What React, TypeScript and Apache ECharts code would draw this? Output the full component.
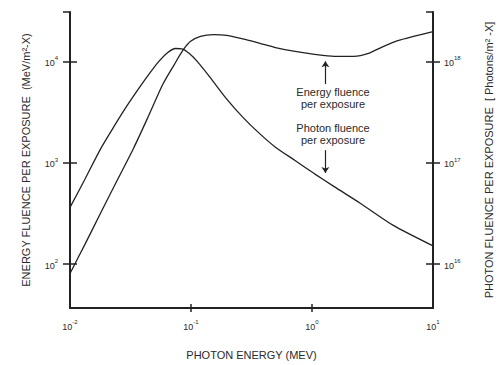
import React, { useEffect, useRef } from 'react';
import * as echarts from 'echarts';

// Photon fluence per exposure (right axis, photons/m^2-X)
const photonX = [0.01, 0.01322, 0.01804, 0.02312, 0.02889, 0.03681, 0.04434, 0.05341, 0.06435, 0.07469, 0.0851, 0.09694, 0.1125, 0.1433, 0.1967, 0.2699, 0.3636, 0.4989, 0.7243, 1.0508, 1.525, 2.521, 4.661, 10];
const photonFluence = [3.627e16, 6.795e16, 1.392e17, 2.279e17, 3.487e17, 5.34e17, 7.306e17, 9.779e17, 1.224e18, 1.338e18, 1.323e18, 1.196e18, 1.0e18, 6.988e17, 4.268e17, 2.788e17, 1.97e17, 1.423e17, 1.052e17, 7.77e16, 5.807e16, 3.968e16, 2.424e16, 1.514e16];

// Energy fluence per exposure (left axis, MeV/m^2-X)
const energyX = [0.01, 0.01322, 0.01804, 0.02444, 0.03354, 0.04434, 0.05864, 0.07292, 0.0867, 0.09931, 0.1197, 0.1535, 0.1967, 0.2854, 0.3774, 0.4989, 0.7243, 1.0508, 1.525, 2.213, 2.927, 3.868, 5.114, 6.762, 10];
const energyFluence = [80.8, 154.8, 324.3, 664, 1392, 2851, 5973, 9350, 13090, 15760, 17630, 18320, 18030, 16380, 14970, 13690, 12510, 11700, 11190, 11190, 11960, 13990, 16010, 17510, 19590];

// Tick values
const xTicks = [0.01, 0.1, 1, 10];
const leftTicks = [100, 1000, 10000];
const rightTicks = [1e16, 1e17, 1e18];

// Axis ranges
const xMin = 0.01;
const xMax = 10;
const leftMin = 36.9;
const leftMax = 30670;
const rightMin = 3.69e15;
const rightMax = 3.067e18;

// Annotation arrows (data coordinates)
const energyArrow = { x: 1.29, from: 5970, to: 10000 };
const photonArrow = { x: 1.29, from: 1.33e17, to: 7.94e16 };

export default function App() {
  const ref = useRef<HTMLDivElement>(null);
  useEffect(() => {
    const chart = echarts.init(ref.current as HTMLDivElement, null, { renderer: 'svg' });
    const ink = '#222';
    const txt = '#2a2a2a';
    const font = '"Liberation Sans", Arial, sans-serif';
    const powLabel = (v: number) => `{b|10}{s|${Math.round(Math.log10(v))}}`;
    const rich = {
      b: { fontSize: 9, lineHeight: 12, verticalAlign: 'bottom', color: txt, fontFamily: font },
      s: { fontSize: 6, lineHeight: 7, verticalAlign: 'top', color: txt, fontFamily: font },
    };
    const nameStyle = { fontSize: 11, color: txt, fontFamily: font };
    const lineAxis = { show: true, onZero: false, lineStyle: { color: ink, width: 2 } };
    const tickStyle = { color: ink, width: 1.5 };

    const energyData = energyX.map((x, i) => [x, energyFluence[i]]);
    const photonData = photonX.map((x, i) => [x, photonFluence[i]]);

    const option: any = {
      animation: false,
      backgroundColor: '#fff',
      grid: { left: 70, right: 61, top: 12, bottom: 53 },
      xAxis: [
        {
          type: 'log', logBase: 10, min: xMin, max: xMax, position: 'bottom',
          axisLine: lineAxis,
          axisTick: { show: true, inside: false, length: 4, customValues: [0.1, 1], lineStyle: tickStyle },
          axisLabel: { show: true, customValues: xTicks, formatter: powLabel, rich, margin: 11 },
          splitLine: { show: false }, minorTick: { show: false },
          name: 'PHOTON ENERGY (MEV)', nameLocation: 'middle', nameGap: 41, nameTextStyle: nameStyle,
        },
        {
          type: 'log', logBase: 10, min: xMin, max: xMax, position: 'bottom',
          axisLine: { show: false, onZero: false },
          axisTick: { show: true, inside: true, length: 4, customValues: [0.1, 1], lineStyle: tickStyle },
          axisLabel: { show: false }, splitLine: { show: false },
        },
      ],
      yAxis: [
        {
          type: 'log', logBase: 10, min: leftMin, max: leftMax, position: 'left',
          axisLine: lineAxis,
          axisTick: { show: true, inside: false, length: 7, customValues: [...leftTicks, leftMax * 0.999], lineStyle: tickStyle },
          axisLabel: { show: true, customValues: leftTicks, formatter: powLabel, rich, margin: 12 },
          splitLine: { show: false }, minorTick: { show: false },
          name: 'ENERGY FLUENCE PER EXPOSURE  (MeV/m²-X)', nameLocation: 'middle', nameGap: 39, nameTextStyle: nameStyle,
        },
        {
          type: 'log', logBase: 10, min: leftMin, max: leftMax, position: 'left',
          axisLine: { show: false, onZero: false },
          axisTick: { show: true, inside: true, length: 7, customValues: leftTicks, lineStyle: tickStyle },
          axisLabel: { show: false }, splitLine: { show: false },
        },
        {
          type: 'log', logBase: 10, min: rightMin, max: rightMax, position: 'right',
          axisLine: lineAxis,
          axisTick: { show: true, inside: false, length: 7, customValues: rightTicks, lineStyle: tickStyle },
          axisLabel: { show: true, customValues: rightTicks, formatter: powLabel, rich, margin: 11 },
          splitLine: { show: false }, minorTick: { show: false },
          name: 'PHOTON FLUENCE PER EXPOSURE  [ Photons/m² -X]', nameLocation: 'middle', nameGap: 50, nameTextStyle: nameStyle,
        },
        {
          type: 'log', logBase: 10, min: rightMin, max: rightMax, position: 'right',
          axisLine: { show: false, onZero: false },
          axisTick: { show: true, inside: true, length: 7, customValues: [...rightTicks, rightMax * 0.999], lineStyle: tickStyle },
          axisLabel: { show: false }, splitLine: { show: false },
        },
      ],
      series: [
        {
          type: 'line', name: 'Energy fluence per exposure', xAxisIndex: 0, yAxisIndex: 0,
          data: energyData, showSymbol: false, smooth: 0.25,
          lineStyle: { color: ink, width: 1.3 },
          markLine: {
            silent: true, symbol: ['none', 'arrow'], symbolSize: 6,
            label: { show: false }, lineStyle: { color: ink, width: 1.2, type: 'solid' },
            data: [[{ coord: [energyArrow.x, energyArrow.from] }, { coord: [energyArrow.x, energyArrow.to] }]],
          },
        },
        {
          type: 'line', name: 'Photon fluence per exposure', xAxisIndex: 0, yAxisIndex: 2,
          data: photonData, showSymbol: false, smooth: 0.25,
          lineStyle: { color: ink, width: 1.3 },
          markLine: {
            silent: true, symbol: ['none', 'arrow'], symbolSize: 6,
            label: { show: false }, lineStyle: { color: ink, width: 1.2, type: 'solid' },
            data: [[{ coord: [photonArrow.x, photonArrow.from] }, { coord: [photonArrow.x, photonArrow.to] }]],
          },
        },
      ],
      graphic: [
        {
          type: 'text', x: 333, y: 97.5,
          style: {
            text: 'Energy fluence\nper exposure', fontSize: 11, fontFamily: font, fill: txt, lineHeight: 12,
            align: 'center', verticalAlign: 'middle', textAlign: 'center', textVerticalAlign: 'middle',
          },
        },
        {
          type: 'text', x: 333, y: 134,
          style: {
            text: 'Photon fluence\nper exposure', fontSize: 11, fontFamily: font, fill: txt, lineHeight: 12,
            align: 'center', verticalAlign: 'middle', textAlign: 'center', textVerticalAlign: 'middle',
          },
        },
      ],
    };
    chart.setOption(option);
    return () => chart.dispose();
  }, []);
  return <div ref={ref} style={{ position: 'fixed', left: 0, top: 0, width: 502, height: 365, background: '#fff' }} />;
}
